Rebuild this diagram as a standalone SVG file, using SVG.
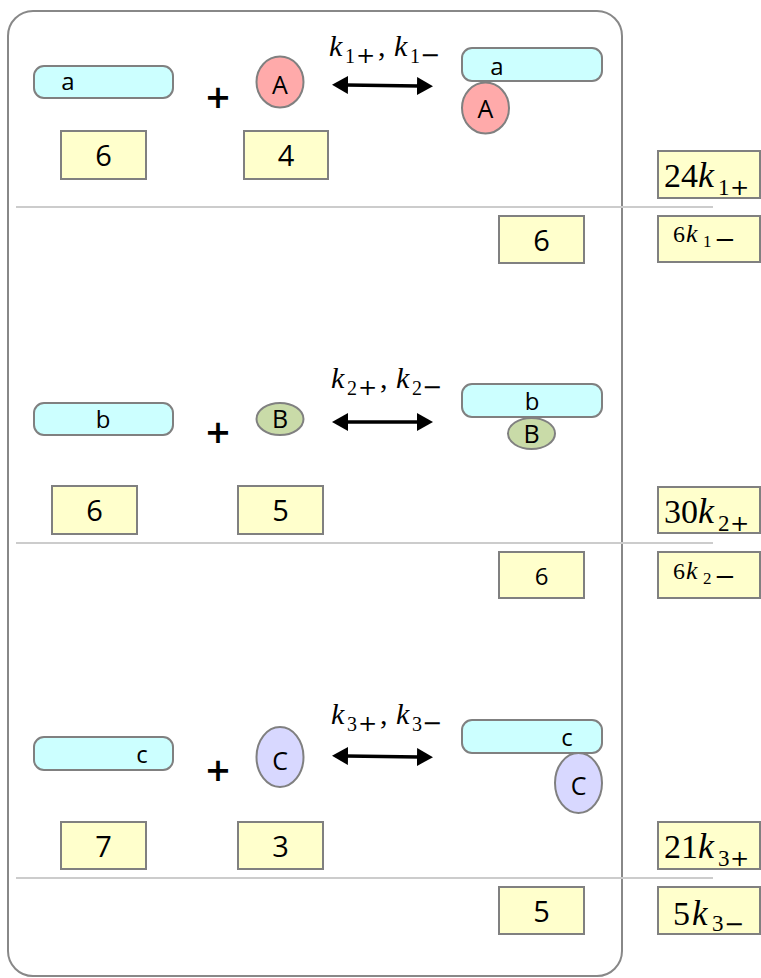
<svg xmlns="http://www.w3.org/2000/svg" width="761" height="978" viewBox="0 0 761 978">
  <style>
    .frame { fill: none; stroke: #888888; stroke-width: 2; }
    .sep { stroke: #cccccc; stroke-width: 2; }
    .pill { fill: #ccffff; stroke: #808080; stroke-width: 2; }
    .molA { fill: #ffaaaa; stroke: #808080; stroke-width: 2; }
    .molB { fill: #c9dba8; stroke: #808080; stroke-width: 2; }
    .molC { fill: #d8d8ff; stroke: #808080; stroke-width: 2; }
    .box { fill: #ffffcc; stroke: #808080; stroke-width: 2; }
    .lbl { font-family: "Open Sans", "Liberation Sans", sans-serif; fill: #000; text-anchor: middle; }
    .low { font-size: 24px; }
    .up { font-size: 25px; }
    .num { font-size: 29px; }
    .plus { font-family: "Open Sans", "Liberation Sans", sans-serif; font-size: 42px; font-weight: 600; text-anchor: middle; }
    .m { font-family: "Liberation Serif", "Times New Roman", serif; fill: #000; }
    .it { font-style: italic; }
    .op { font-family: "DejaVu Serif", serif; }
    .arrow { stroke: #000; stroke-width: 3.5; fill: none; marker-start: url(#head); marker-end: url(#head); }
  </style>
  <defs>
    <marker id="head" viewBox="0 0 16 18" refX="2" refY="9" markerWidth="16" markerHeight="18" markerUnits="userSpaceOnUse" orient="auto-start-reverse">
      <path d="M0,0 L16,9 L0,18 Z" fill="#000"/>
    </marker>
  </defs>

  <!-- enclosing panel and row separators -->
  <rect class="frame" x="8" y="11" width="614" height="965" rx="25"/>
  <line class="sep" x1="16" y1="207" x2="713" y2="207"/>
  <line class="sep" x1="16" y1="543" x2="713" y2="543"/>
  <line class="sep" x1="16" y1="878" x2="713" y2="878"/>

  <!-- reaction 1 -->
  <g id="strand-a">
    <rect class="pill" x="34" y="66" width="139" height="32" rx="10"/>
    <text class="lbl low" x="68" y="90">a</text>
  </g>
  <text class="plus" x="218" y="113">+</text>
  <g id="ligand-A">
    <ellipse class="molA" cx="280" cy="82" rx="23.5" ry="25.5"/>
    <text class="lbl up" x="280" y="94">A</text>
  </g>
  <g id="complex-aA">
    <rect class="pill" x="462" y="48" width="140" height="33" rx="10"/>
    <text class="lbl low" x="497" y="75">a</text>
    <ellipse class="molA" cx="485.5" cy="108" rx="23.5" ry="25.5"/>
    <text class="lbl up" x="485.5" y="118">A</text>
  </g>
  <g id="count-a">
    <rect class="box" x="61" y="131" width="85" height="48"/>
    <text class="lbl num" x="103.5" y="166">6</text>
  </g>
  <g id="count-A">
    <rect class="box" x="244" y="131" width="84" height="48"/>
    <text class="lbl num" x="286" y="166">4</text>
  </g>
  <g id="count-aA">
    <rect class="box" x="499" y="216" width="85" height="47"/>
    <text class="lbl num" x="541.5" y="251">6</text>
  </g>
  <g id="rate-1f">
    <rect class="box" x="658" y="151" width="102" height="47"/>
    <text class="m" font-size="34"><tspan x="664" y="187">24</tspan><tspan class="it" font-size="36" x="698" y="187">k</tspan><tspan font-size="23" x="718" y="195">1</tspan><tspan class="op" font-size="23" x="730" y="195">+</tspan></text>
  </g>
  <g id="rate-1r">
    <rect class="box" x="658" y="216" width="102" height="46"/>
    <text class="m" font-size="24"><tspan x="673" y="242">6</tspan><tspan class="it" font-size="26" x="686" y="242">k</tspan><tspan font-size="17" x="703" y="247">1</tspan><tspan class="op" font-size="26" x="714" y="248">−</tspan></text>
  </g>
  <text id="label-1" class="m" font-size="30"><tspan class="it" x="329" y="56">k</tspan><tspan font-size="20" x="345" y="63">1</tspan><tspan class="op" font-size="23" x="356" y="63">+</tspan><tspan x="378" y="56">,</tspan><tspan class="it" x="394" y="56">k</tspan><tspan font-size="20" x="410" y="63">1</tspan><tspan class="op" font-size="24" x="420" y="63">−</tspan></text>

  <!-- reaction 2 -->
  <g id="strand-b">
    <rect class="pill" x="34" y="403" width="139" height="32" rx="10"/>
    <text class="lbl low" x="103" y="428">b</text>
  </g>
  <text class="plus" x="218" y="448">+</text>
  <g id="ligand-B">
    <ellipse class="molB" cx="280" cy="419" rx="23.5" ry="16"/>
    <text class="lbl up" x="280" y="428">B</text>
  </g>
  <g id="complex-bB">
    <rect class="pill" x="462" y="384" width="140" height="33" rx="10"/>
    <text class="lbl low" x="532" y="410">b</text>
    <ellipse class="molB" cx="531.5" cy="433.5" rx="23.5" ry="15.5"/>
    <text class="lbl up" x="531.5" y="443">B</text>
  </g>
  <g id="count-b">
    <rect class="box" x="52" y="486" width="85" height="48"/>
    <text class="lbl num" x="94.5" y="521">6</text>
  </g>
  <g id="count-B">
    <rect class="box" x="238" y="486" width="85" height="48"/>
    <text class="lbl num" x="280.5" y="521">5</text>
  </g>
  <g id="count-bB">
    <rect class="box" x="499" y="552" width="85" height="46"/>
    <text class="lbl" font-size="24" x="541.5" y="585">6</text>
  </g>
  <g id="rate-2f">
    <rect class="box" x="658" y="487" width="102" height="46"/>
    <text class="m" font-size="34"><tspan x="664" y="523">30</tspan><tspan class="it" font-size="36" x="698" y="523">k</tspan><tspan font-size="23" x="718" y="531">2</tspan><tspan class="op" font-size="23" x="730" y="531">+</tspan></text>
  </g>
  <g id="rate-2r">
    <rect class="box" x="658" y="552" width="102" height="46"/>
    <text class="m" font-size="24"><tspan x="673" y="579">6</tspan><tspan class="it" font-size="26" x="686" y="579">k</tspan><tspan font-size="17" x="703" y="584">2</tspan><tspan class="op" font-size="26" x="714" y="585">−</tspan></text>
  </g>
  <text id="label-2" class="m" font-size="30"><tspan class="it" x="331" y="388">k</tspan><tspan font-size="20" x="347" y="395">2</tspan><tspan class="op" font-size="23" x="358" y="395">+</tspan><tspan x="380" y="388">,</tspan><tspan class="it" x="396" y="388">k</tspan><tspan font-size="20" x="412" y="395">2</tspan><tspan class="op" font-size="24" x="422" y="395">−</tspan></text>

  <!-- reaction 3 -->
  <g id="strand-c">
    <rect class="pill" x="34" y="737" width="139" height="33" rx="10"/>
    <text class="lbl low" x="142" y="763">c</text>
  </g>
  <text class="plus" x="218" y="786">+</text>
  <g id="ligand-C">
    <ellipse class="molC" cx="280" cy="757" rx="23.5" ry="30"/>
    <text class="lbl up" x="280" y="770">C</text>
  </g>
  <g id="complex-cC">
    <rect class="pill" x="462" y="720" width="140" height="33" rx="10"/>
    <text class="lbl low" x="567" y="746">c</text>
    <ellipse class="molC" cx="578.5" cy="783" rx="23.5" ry="30"/>
    <text class="lbl up" x="578.5" y="795">C</text>
  </g>
  <g id="count-c">
    <rect class="box" x="61" y="822" width="85" height="47"/>
    <text class="lbl num" x="103.5" y="857">7</text>
  </g>
  <g id="count-C">
    <rect class="box" x="238" y="822" width="85" height="47"/>
    <text class="lbl num" x="280.5" y="857">3</text>
  </g>
  <g id="count-cC">
    <rect class="box" x="499" y="887" width="85" height="47"/>
    <text class="lbl num" x="541.5" y="922">5</text>
  </g>
  <g id="rate-3f">
    <rect class="box" x="658" y="822" width="102" height="47"/>
    <text class="m" font-size="34"><tspan x="664" y="858">21</tspan><tspan class="it" font-size="36" x="698" y="858">k</tspan><tspan font-size="23" x="718" y="866">3</tspan><tspan class="op" font-size="23" x="730" y="866">+</tspan></text>
  </g>
  <g id="rate-3r">
    <rect class="box" x="658" y="887" width="102" height="47"/>
    <text class="m" font-size="34"><tspan x="673" y="925">5</tspan><tspan class="it" font-size="35" x="692" y="925">k</tspan><tspan font-size="23" x="712" y="931">3</tspan><tspan class="op" font-size="24" x="724" y="932">−</tspan></text>
  </g>
  <text id="label-3" class="m" font-size="30"><tspan class="it" x="331" y="724">k</tspan><tspan font-size="20" x="347" y="731">3</tspan><tspan class="op" font-size="23" x="358" y="731">+</tspan><tspan x="380" y="724">,</tspan><tspan class="it" x="396" y="724">k</tspan><tspan font-size="20" x="412" y="731">3</tspan><tspan class="op" font-size="24" x="422" y="731">−</tspan></text>

  <!-- reversible reaction arrows -->
  <g id="connectors">
    <line class="arrow" x1="346" y1="85" x2="419" y2="86"/>
    <line class="arrow" x1="346" y1="422" x2="419" y2="422"/>
    <line class="arrow" x1="346" y1="756" x2="419" y2="757"/>
  </g>
</svg>
